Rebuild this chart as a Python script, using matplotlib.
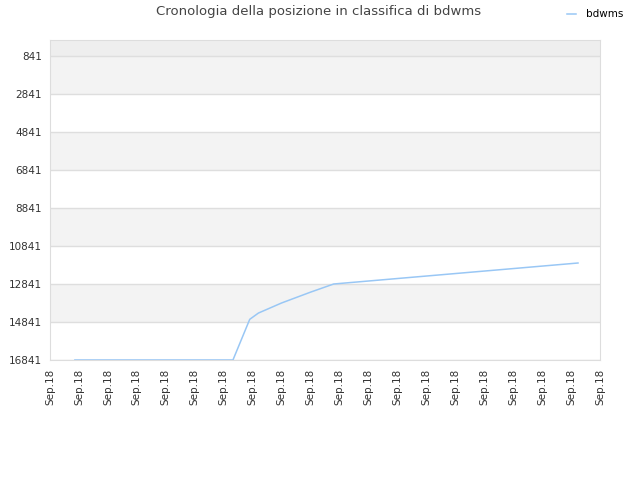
import matplotlib
matplotlib.use('Agg')
import matplotlib.pyplot as plt

# posizione in classifica
giorni = [0.86, 6.32, 6.9, 7.2, 8.0, 9.0, 9.8, 18.24]
posizione = [16841, 16841, 14700, 14370, 13840, 13270, 12841, 11736]

tick_pos = list(range(20))
tick_lab = ['Sep.18'] * 20
y_ticks = [841, 2841, 4841, 6841, 8841, 10841, 12841, 14841, 16841]

fig = plt.figure(figsize=(6.4, 4.8), dpi=100)
ax = fig.add_axes([50 / 640, 120 / 480, 550 / 640, 320 / 480])

# bande alternate
ax.axhspan(0, 841, color='#eeeeee', zorder=0, lw=0)
for i in range(len(y_ticks) - 1):
    if i % 2 == 0:
        ax.axhspan(y_ticks[i], y_ticks[i + 1], color='#f3f3f3', zorder=0, lw=0)

for y in y_ticks:
    ax.axhline(y, color='#dedede', lw=1, zorder=1)

ax.plot(giorni, posizione, color='#99c7f5', lw=1.1, label='bdwms', zorder=3)

ax.set_xlim(0, 19)
ax.set_ylim(16841, -1)
ax.set_yticks(y_ticks)
ax.set_yticklabels([str(v) for v in y_ticks], fontsize=7.5, color='#333333')
ax.set_xticks(tick_pos)
ax.set_xticklabels(tick_lab, rotation=90, fontsize=7.5, color='#333333')
ax.tick_params(length=0, pad=6)
for s in ax.spines.values():
    s.set_color('#dddddd')

fig.text(0.497, 0.975, 'Cronologia della posizione in classifica di bdwms',
         ha='center', va='center', fontsize=9.5, color='#444444')
fig.legend(loc='upper right', bbox_to_anchor=(0.988, 1.0), frameon=False,
           fontsize=7.5, handlelength=0.9, handletextpad=0.9)

fig.savefig('out.png', dpi=100)
